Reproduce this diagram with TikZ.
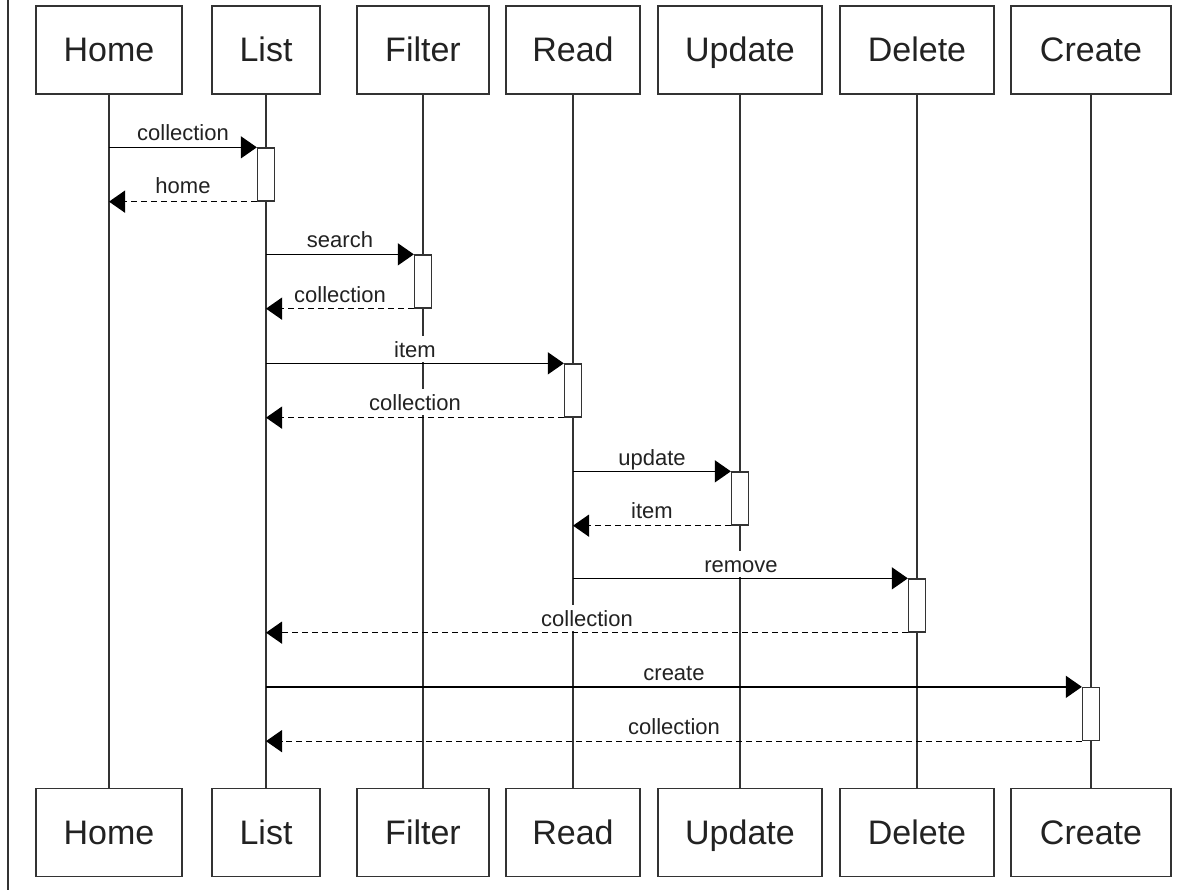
\documentclass[tikz,border=0pt]{standalone}
\usepackage{fontspec}
\setmainfont{Liberation Sans}
\usetikzlibrary{arrows.meta}
\definecolor{linec}{HTML}{333333}
\definecolor{textc}{HTML}{222222}
\tikzset{
  obj/.style={draw=linec, line width=1.5pt, fill=white, text=textc,
    font=\fontsize{34}{40}\selectfont, minimum height=88pt, inner sep=0pt,
    text height=26pt, text depth=2pt},
  life/.style={draw=linec, line width=1.3pt},
  act/.style={draw=linec, line width=1.3pt, fill=white, minimum width=17pt,
    minimum height=53pt, inner sep=0pt},
  msg/.style={draw=black, line width=1.3pt, -{Triangle[length=16pt,width=22pt]}},
  ret/.style={msg, dash pattern=on 6pt off 4pt},
  lbl/.style={font=\fontsize{22}{26}\selectfont, text=textc, anchor=base,
    fill=white, inner xsep=2pt, inner ysep=5pt, text height=16pt, text depth=0pt}
}
\begin{document}
\begin{tikzpicture}[x=1pt,y=-1pt]
\useasboundingbox[fill=white] (0,0) rectangle (1182,890);
\coordinate (bt) at (8,0);
\coordinate (bb) at (8,890);
\draw[draw=linec, line width=1.4pt] (bt) -- (bb);

% top objects
\node[obj, minimum width=146pt] (tHome)   at (109,50) {Home};
\node[obj, minimum width=108pt] (tList)   at (266,50) {List};
\node[obj, minimum width=132pt] (tFilter) at (423,50) {Filter};
\node[obj, minimum width=134pt] (tRead)   at (573,50) {Read};
\node[obj, minimum width=164pt] (tUpdate) at (740,50) {Update};
\node[obj, minimum width=154pt] (tDelete) at (917,50) {Delete};
\node[obj, minimum width=160pt] (tCreate) at (1091,50) {Create};
% bottom objects
\node[obj, minimum width=146pt] (bHome)   at (109,832.5) {Home};
\node[obj, minimum width=108pt] (bList)   at (266,832.5) {List};
\node[obj, minimum width=132pt] (bFilter) at (423,832.5) {Filter};
\node[obj, minimum width=134pt] (bRead)   at (573,832.5) {Read};
\node[obj, minimum width=164pt] (bUpdate) at (740,832.5) {Update};
\node[obj, minimum width=154pt] (bDelete) at (917,832.5) {Delete};
\node[obj, minimum width=160pt] (bCreate) at (1091,832.5) {Create};

% lifelines
\foreach \n in {Home,List,Filter,Read,Update,Delete,Create}
  \draw[life] (t\n.south) -- (b\n.north);

% labels
\node[lbl] (l1)  at (183,141) {collection};
\node[lbl] (l2)  at (183,194) {home};
\node[lbl] (l3)  at (340,248) {search};
\node[lbl] (l4)  at (340,302) {collection};
\node[lbl] (l5)  at (415,357) {item};
\node[lbl] (l6)  at (415,410) {collection};
\node[lbl] (l7)  at (652,465) {update};
\node[lbl] (l8)  at (652,518) {item};
\node[lbl] (l9)  at (741,572) {remove};
\node[lbl] (l10) at (587,626) {collection};
\node[lbl] (l11) at (674,680) {create};
\node[lbl] (l12) at (674,734) {collection};

% activations
\node[act] (aList)   at (266,174.5) {};
\node[act] (aFilter) at (423,281.5) {};
\node[act] (aRead)   at (573,390.5) {};
\node[act] (aUpdate) at (740,498.5) {};
\node[act] (aDelete) at (917,605.5) {};
\node[act] (aCreate) at (1091,714) {};

% messages
\draw[msg] (tHome.south |- aList.north west) -- (aList.north west);
\draw[ret] (aList.south west) -- (tHome.south |- aList.south west);
\draw[msg] (tList.south |- aFilter.north west) -- (aFilter.north west);
\draw[ret] (aFilter.south west) -- (tList.south |- aFilter.south west);
\draw[msg] (tList.south |- aRead.north west) -- (aRead.north west);
\draw[ret] (aRead.south west) -- (tList.south |- aRead.south west);
\draw[msg] (tRead.south |- aUpdate.north west) -- (aUpdate.north west);
\draw[ret] (aUpdate.south west) -- (tRead.south |- aUpdate.south west);
\draw[msg] (tRead.south |- aDelete.north west) -- (aDelete.north west);
\draw[ret] (aDelete.south west) -- (tList.south |- aDelete.south west);
\draw[msg] (tList.south |- aCreate.north west) -- (aCreate.north west);
\draw[ret] (aCreate.south west) -- (tList.south |- aCreate.south west);
\end{tikzpicture}
\end{document}
